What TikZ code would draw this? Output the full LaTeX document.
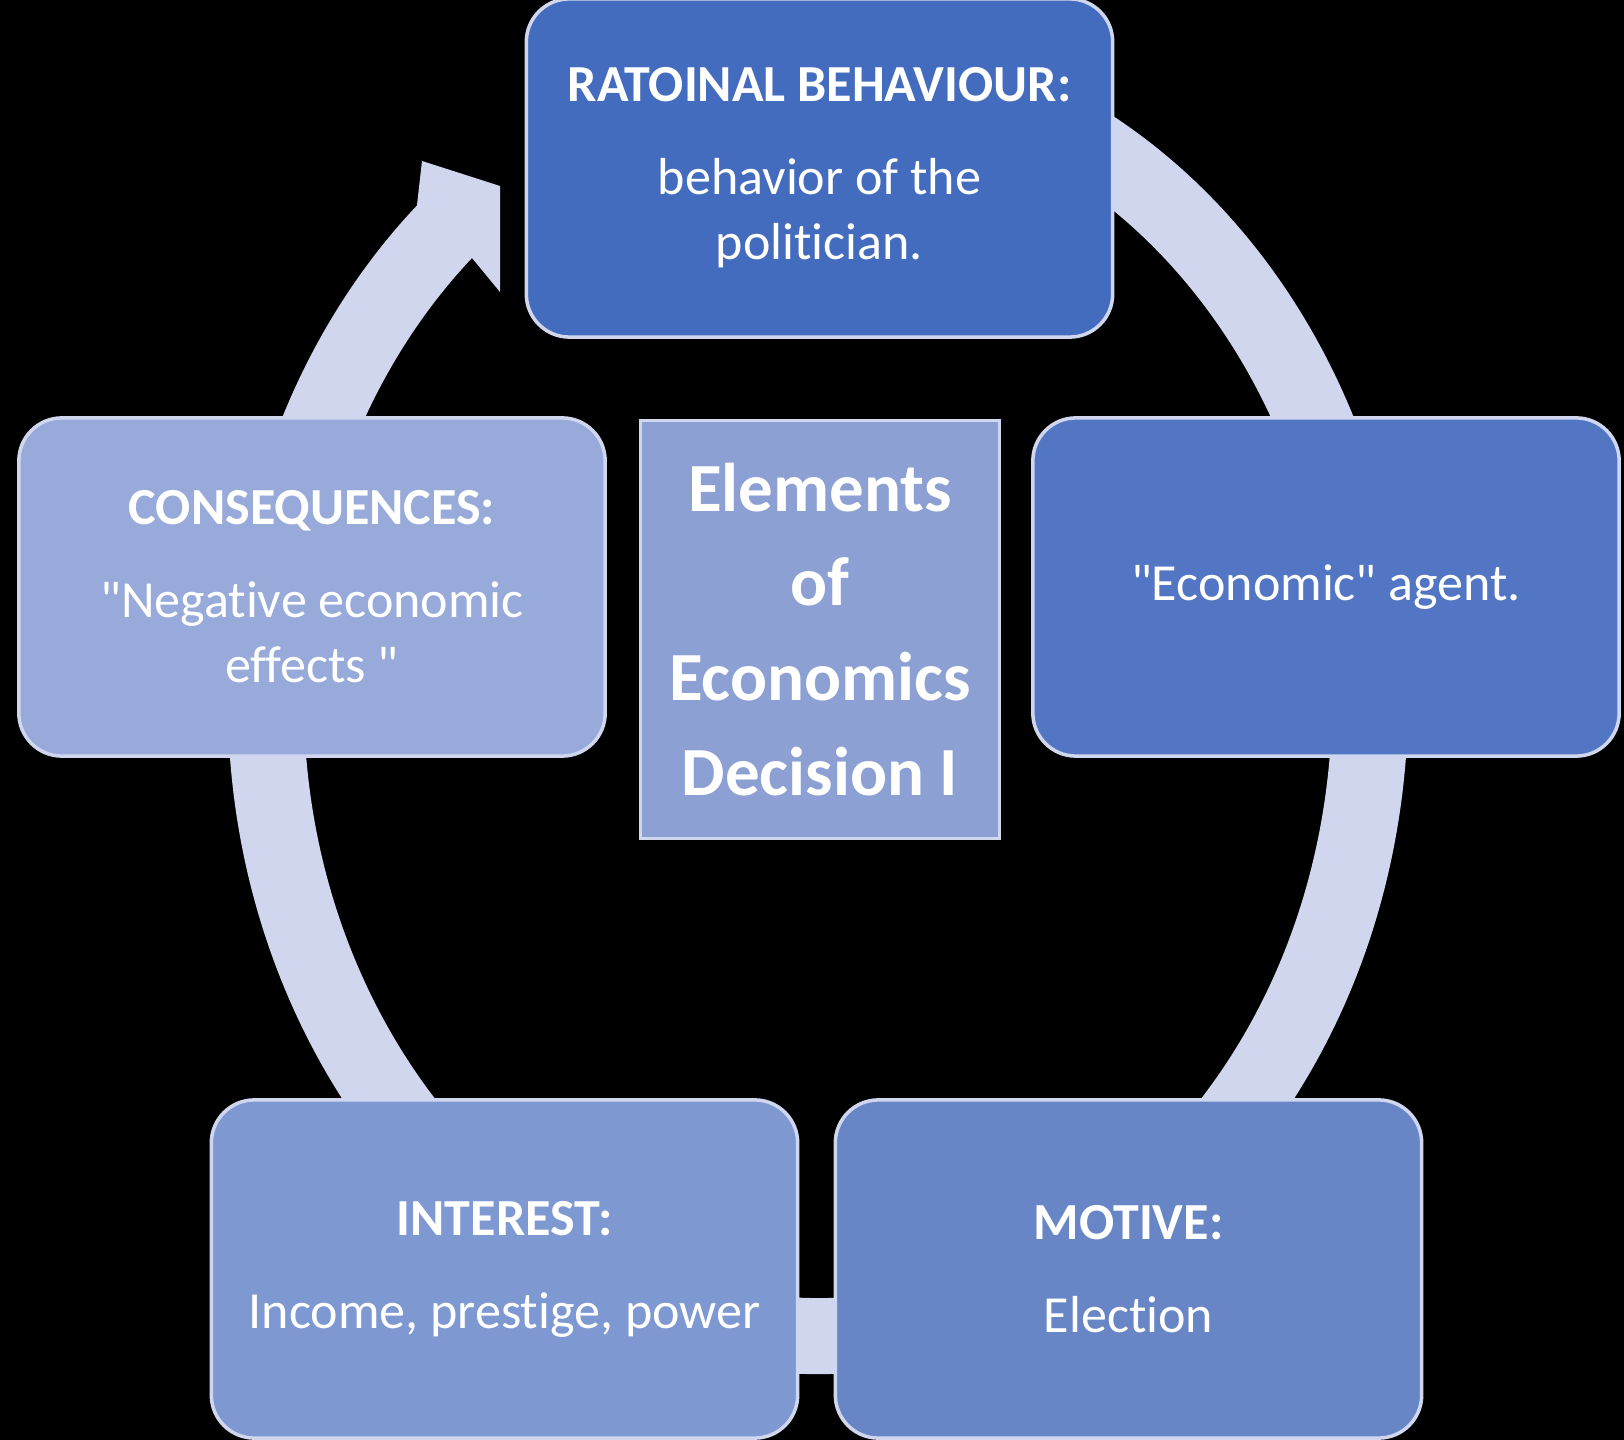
\documentclass[tikz,border=0pt]{standalone}
\usepackage{fontspec}
\setmainfont{Carlito}[Ligatures={NoCommon}]
\definecolor{ringc}{RGB}{208,214,238}
\definecolor{stageA}{RGB}{68,108,190}
\definecolor{stageB}{RGB}{82,118,196}
\definecolor{stageC}{RGB}{104,134,198}
\definecolor{stageD}{RGB}{126,152,210}
\definecolor{stageE}{RGB}{152,170,218}
\definecolor{hubc}{RGB}{140,160,212}
\tikzset{ stage/.style = { rectangle
                         , rounded corners = 4.3mm
                         , draw = ringc
                         , line width     = 1pt
                         , minimum width  = 5.86cm
                         , minimum height = 3.38cm
                         , text  = white
                         , align = center
                         , font  = \fontsize{14.8pt}{18.5pt}\selectfont
                         },
          hub/.style = { rectangle
                       , draw = ringc
                       , line width     = 0.8pt
                       , fill = hubc
                       , minimum width  = 3.58cm
                       , minimum height = 4.17cm
                       , text  = white
                       , align = center
                       , font  = \fontsize{19.6pt}{27pt}\selectfont\bfseries
                       },
          ring/.style = { draw = ringc
                        , line width = 0.76cm
                        }
        }

\begin{document}
\begin{tikzpicture}[x=0.01cm, y=0.01cm]
    \fill[black] (0,0) rectangle (1624,-1440);
    \useasboundingbox (0,0) rectangle (1624,-1440);
    \clip (0,0) rectangle (1624,-1440);
    % the cycle behind the boxes
    \coordinate (centre) at (818,-700);
    \draw[ring] (centre) ++(80:552 and 636)
        arc[start angle=80, end angle=-228, x radius=552, y radius=636];
    \fill[ringc] (417,-205) -- (422,-161) -- (500,-186) -- (500,-292) -- (472,-258) -- cycle;
    % boxes
    \node[stage, fill=stageA] (rational) at (819.5,-168)
        {\textbf{RATOINAL BEHAVIOUR:}\\[8pt]behavior of the\\politician.};
    \node[stage, fill=stageB] (agent) at (1326,-587)
        {\textquotedbl Economic\textquotedbl{} agent.};
    \node[stage, fill=stageC] (motive) at (1128.5,-1269)
        {\textbf{MOTIVE:}\\[8pt]Election};
    \node[stage, fill=stageD] (interest) at (504.5,-1269)
        {\textbf{INTEREST:}\\[8pt]Income, prestige, power};
    \node[stage, fill=stageE] (effects) at (312,-587)
        {\textbf{CONSEQUENCES:}\\[8pt]\textquotedbl Negative economic\\effects \textquotedbl};
    \node[hub] (title) at (820,-629.5)
        {Elements\\of\\Economics\\Decision I};
\end{tikzpicture}
\end{document}
